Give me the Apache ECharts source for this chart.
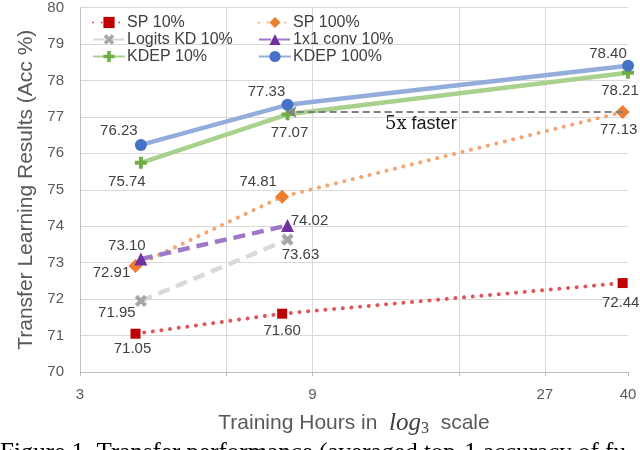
<!DOCTYPE html>
<html><head><meta charset="utf-8">
<script src="https://cdn.jsdelivr.net/npm/echarts@6/dist/echarts.min.js"></script>
<style>html,body{margin:0;padding:0;background:#fff}#c{width:640px;height:450px}</style>
</head><body><div id="c"></div><script>
// ---- data ----
const seriesNames = ['SP 10%', 'SP 100%', 'Logits KD 10%', '1x1 conv 10%', 'KDEP 10%', 'KDEP 100%'];
const hoursSP = [3.9, 7.8, 39];
const hoursOther = [4, 8, 40];
const sp10 = [71.05, 71.60, 72.44];
const sp100 = [72.91, 74.81, 77.13];
const logitsKD10 = [71.95, 73.63];
const conv1x1_10 = [73.10, 74.02];
const kdep10 = [75.74, 77.07, 78.21];
const kdep100 = [76.23, 77.33, 78.40];
const xTickHours = [3, 6, 9, 18, 27, 40];
const xLabelHours = [3, 9, 27, 40];
const xMinHours = 3, xMaxHours = 40;
const yMin = 70, yMax = 80, yStep = 1;
const annotationText = '5x faster';
const captionText = 'Figure 1. Transfer performance (averaged top-1 accuracy of fu';

// ---- helpers ----
const log3 = h => Math.log(h) / Math.log(3);
const FONT = 'Liberation Sans';
const plusPath = 'path://M3.4,0H6.6V3.4H10V6.6H6.6V10H3.4V6.6H0V3.4H3.4Z';

// label offsets (layout only)
const offs = {
  sp10: [[-3, 15], [0, 17], [-2, 20]],
  sp100: [[-24, 7], [-24, -15], [-4, 18]],
  logits: [[-24, 12], [13, 15]],
  conv: [[-14, -13], [22, -5]],
  kdep10: [[-14, 19], [2, 19], [-8, 18]],
  kdep100: [[-22, -14], [-21, -13], [-20, -12]]
};

function mk(name, hours, vals, off, o) {
  return Object.assign({
    type: 'line', name: name, clip: false, z: 3,
    data: vals.map((v, i) => ({ value: [log3(hours[i]), v], label: { offset: off[i] } })),
    label: {
      show: true, position: 'inside', align: 'center', verticalAlign: 'middle',
      formatter: p => p.value[1].toFixed(2), color: '#404040', fontSize: 15, fontFamily: FONT
    },
    emphasis: { disabled: true },
    animation: false
  }, o);
}

const series = [
  mk(seriesNames[0], hoursSP, sp10, offs.sp10, {
    symbol: 'rect', symbolSize: 10, itemStyle: { color: '#c00000' },
    lineStyle: { color: '#e0575b', width: 4, type: [0.1, 8.6], cap: 'round' }
  }),
  mk(seriesNames[1], hoursSP, sp100, offs.sp100, {
    symbol: 'diamond', symbolSize: 14, itemStyle: { color: '#ed7d31' },
    lineStyle: { color: '#f4a672', width: 4, type: [0.1, 8.6], cap: 'round' },
    markLine: {
      silent: true, symbol: ['none', 'arrow'], symbolSize: [9, 9],
      label: { show: false },
      lineStyle: { color: '#808080', width: 2, type: [7, 4] },
      data: [[
        { coord: [log3(hoursSP[2]), sp100[2]] },
        { coord: [log3(hoursOther[1]), sp100[2]] }
      ]]
    }
  }),
  mk(seriesNames[2], hoursOther, logitsKD10, offs.logits, {
    symbol: plusPath, symbolRotate: 45, symbolSize: 13, itemStyle: { color: '#a6a6a6' },
    lineStyle: { color: '#d9d9d9', width: 4.5, type: [12, 7] }
  }),
  mk(seriesNames[3], hoursOther, conv1x1_10, offs.conv, {
    symbol: 'triangle', symbolSize: 13, itemStyle: { color: '#7030a0' },
    lineStyle: { color: '#9e79c9', width: 4.5, type: [12, 7] }
  }),
  mk(seriesNames[4], hoursOther, kdep10, offs.kdep10, {
    symbol: plusPath, symbolSize: 12, itemStyle: { color: '#70ad47' },
    lineStyle: { color: '#a9d18e', width: 4.5 }
  }),
  mk(seriesNames[5], hoursOther, kdep100, offs.kdep100, {
    symbol: 'circle', symbolSize: 12, itemStyle: { color: '#4472c4' },
    lineStyle: { color: '#92acdc', width: 4.5 }
  })
];

const legendBase = {
  orient: 'vertical', top: 14, padding: 0, itemGap: 0, itemWidth: 32, itemHeight: 14,
  selectedMode: false,
  textStyle: { fontFamily: FONT, fontSize: 16, color: '#404040', lineHeight: 17, padding: [0, 0, 0, -3] }
};

const chart = echarts.init(document.getElementById('c'), null, { renderer: 'canvas' });
chart.setOption({
  backgroundColor: '#ffffff',
  animation: false,
  grid: { left: 80, right: 12, top: 7, bottom: 78, containLabel: false },
  legend: [
    Object.assign({}, legendBase, { left: 92, data: [seriesNames[0], seriesNames[2], seriesNames[4]] }),
    Object.assign({}, legendBase, { left: 258, data: [seriesNames[1], seriesNames[3], seriesNames[5]] })
  ],
  xAxis: {
    type: 'value', min: log3(xMinHours), max: log3(xMaxHours), interval: 1,
    name: 'Training Hours in  {m|log}{s|3}  scale',
    nameLocation: 'middle', nameGap: 37,
    nameTextStyle: {
      fontFamily: FONT, fontSize: 21, color: '#595959',
      rich: {
        m: { fontFamily: 'Liberation Serif', fontStyle: 'italic', fontSize: 25, color: '#404040' },
        s: { fontFamily: 'Liberation Serif', fontSize: 16, color: '#404040', verticalAlign: 'bottom', padding: [12, 0, 0, 0] }
      }
    },
    axisLine: { lineStyle: { color: '#bfbfbf', width: 1 } },
    axisTick: { show: true, length: 4, lineStyle: { color: '#bfbfbf' }, customValues: xTickHours.map(log3) },
    axisLabel: {
      customValues: xLabelHours.map(log3), margin: 15,
      formatter: v => String(Math.round(Math.pow(3, v))),
      fontFamily: FONT, fontSize: 15, color: '#595959'
    },
    splitLine: { show: true, showMinLine: false, showMaxLine: false, lineStyle: { color: '#d9d9d9', width: 1 } }
  },
  yAxis: {
    type: 'value', min: yMin, max: yMax, interval: yStep,
    name: 'Transfer Learning Results (Acc %)', nameLocation: 'middle', nameGap: 40,
    nameTextStyle: { fontFamily: FONT, fontSize: 21, color: '#595959' },
    axisLine: { show: true, lineStyle: { color: '#bfbfbf' } },
    axisTick: { show: false },
    axisLabel: { margin: 16, fontFamily: FONT, fontSize: 15, color: '#595959' },
    splitLine: { show: true, lineStyle: { color: '#d9d9d9', width: 1 } }
  },
  series: series,
  graphic: [
    {
      type: 'text', left: 385, top: 115, silent: true, z: 10,
      style: {
        text: '{a|5x} faster', fill: '#1a1a1a', font: '18px "Liberation Sans"',
        rich: { a: { fontFamily: 'DejaVu Serif', fontSize: 18, fill: '#1a1a1a' } }
      }
    },
    {
      type: 'text', left: 0, top: 441, silent: true,
      style: { text: captionText, fill: '#000', font: '25px "Liberation Serif"' }
    }
  ]
});
</script></body></html>
